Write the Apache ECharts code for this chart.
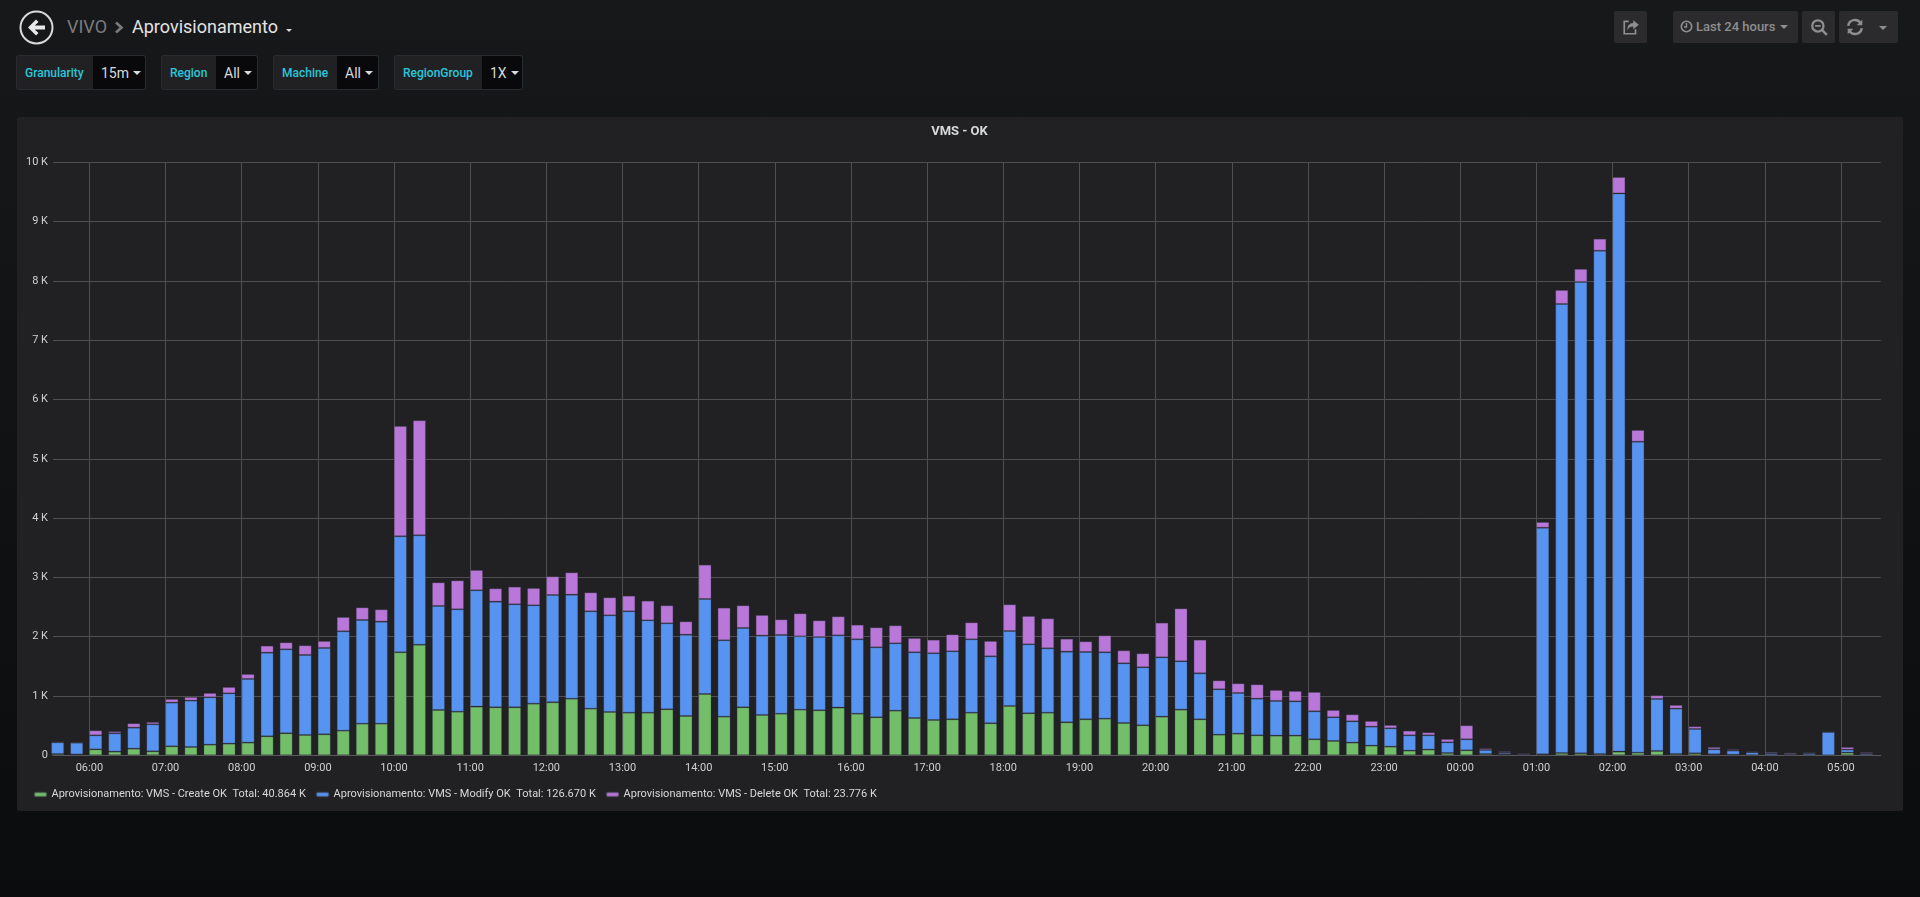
<!DOCTYPE html>
<html>
<head>
<meta charset="utf-8">
<title>VIVO / Aprovisionamento</title>
<script src="https://cdn.jsdelivr.net/npm/echarts@6/dist/echarts.min.js"></script>
<style>
html,body{margin:0;padding:0;width:1920px;height:897px;overflow:hidden;font-family:Roboto,sans-serif;background:linear-gradient(180deg,#17181a 0%,#0b0c0e 100%);}
.abs{position:absolute;white-space:nowrap;}
#panel{position:absolute;left:17px;top:117px;width:1886px;height:694px;background:#212124;border-radius:2px;}
#chart{position:absolute;left:0;top:0;width:1920px;height:897px;}
.crumb{font-size:18px;line-height:24px;top:15px;}
.flabel,.fval{position:absolute;top:55px;height:35px;line-height:35px;box-sizing:border-box;font-size:12px;}
.flabel{background:#212124;color:#2ac6d9;font-weight:500;border:1px solid #2a2b2e;border-right:0;border-radius:3px 0 0 3px;padding-left:8px;}
.fval{background:#09090b;color:#d8d9da;font-size:14px;border:1px solid #2a2b2e;border-left:0;border-radius:0 3px 3px 0;padding-left:8px;}
.caret{display:inline-block;width:0;height:0;border-left:4px solid transparent;border-right:4px solid transparent;border-top:4px solid #d8d9da;vertical-align:middle;margin-left:4px;margin-top:-2px;}
.btn{position:absolute;top:11px;height:32px;background:#2b2b2e;border-radius:2px;color:#8e8e8e;font-size:13px;font-weight:500;line-height:32px;}
.btn svg{position:absolute;}
</style>
</head>
<body>
<div id="panel"></div>

<svg class="abs" style="left:18px;top:9px" width="38" height="38" viewBox="0 0 38 38">
  <circle cx="18.5" cy="18.5" r="16" fill="none" stroke="#d8d9da" stroke-width="2"/>
  <path d="M10 18.5 L18 10.5 L20.5 13 L16.8 16.5 L27 16.5 L27 20.5 L16.8 20.5 L20.5 24 L18 26.5 Z" fill="#e8e8e8"/>
</svg>
<div class="abs crumb" style="left:67px;color:#7b7b7e">VIVO</div>
<svg class="abs" style="left:114px;top:21px" width="11" height="13" viewBox="0 0 11 13"><path d="M2 1.5 L7.5 6.5 L2 11.5" fill="none" stroke="#7b7b7e" stroke-width="2.6"/></svg>
<div class="abs crumb" style="left:132px;color:#e3e3e3">Aprovisionamento</div>
<div class="abs" style="left:286px;top:29px;width:0;height:0;border-left:3px solid transparent;border-right:3px solid transparent;border-top:3px solid #d8d9da"></div>

<div class="flabel abs" style="left:16px;width:77px">Granularity</div><div class="fval abs" style="left:93px;width:53px">15m<span class="caret"></span></div>
<div class="flabel abs" style="left:161px;width:55px">Region</div><div class="fval abs" style="left:216px;width:42px">All<span class="caret"></span></div>
<div class="flabel abs" style="left:273px;width:64px">Machine</div><div class="fval abs" style="left:337px;width:42px">All<span class="caret"></span></div>
<div class="flabel abs" style="left:394px;width:88px">RegionGroup</div><div class="fval abs" style="left:482px;width:41px">1X<span class="caret"></span></div>

<div class="btn" style="left:1614px;width:33px">
  <svg style="left:8px;top:7px" width="18" height="18" viewBox="0 0 16 16"><path d="M10 2 L15 6 L10 10 L10 7.5 C7 7.5 5.5 8.5 4.8 11 C4.6 7 6.5 4.6 10 4.5 Z" fill="#8e8e8e"/><path d="M6 3 H2 V14 H12 V10" fill="none" stroke="#8e8e8e" stroke-width="1.5"/></svg>
</div>
<div class="btn" style="left:1673px;width:125px;padding-left:8px;box-sizing:border-box">
  <svg style="left:7px;top:9px" width="13" height="13" viewBox="0 0 13 13"><circle cx="6.5" cy="6.5" r="5.2" fill="none" stroke="#8e8e8e" stroke-width="1.6"/><path d="M6.5 3 V7 H4" fill="none" stroke="#8e8e8e" stroke-width="1.4"/></svg>
  <span style="margin-left:15px">Last 24 hours</span><span class="caret" style="border-top-color:#8e8e8e;margin-left:5px"></span>
</div>
<div class="btn" style="left:1802px;width:33px">
  <svg style="left:8px;top:7px" width="18" height="18" viewBox="0 0 16 16"><circle cx="7" cy="7" r="5" fill="none" stroke="#8e8e8e" stroke-width="2"/><path d="M11 11 L15 15" stroke="#8e8e8e" stroke-width="2.2"/><path d="M4.5 7 H9.5" stroke="#8e8e8e" stroke-width="1.6"/></svg>
</div>
<div class="btn" style="left:1839px;width:59px">
  <svg style="left:7px;top:7px" width="18" height="18" viewBox="0 0 16 16"><path d="M2 7 A6 6 0 0 1 13 4.5 M14 9 A6 6 0 0 1 3 11.5" fill="none" stroke="#8e8e8e" stroke-width="2.2"/><path d="M14.5 1.5 V6.5 H9.5 Z M1.5 14.5 V9.5 H6.5 Z" fill="#8e8e8e"/></svg>
  <span class="caret" style="position:absolute;left:40px;top:15px;margin:0;border-top-color:#8e8e8e"></span>
</div>

<div id="chart"></div>

<script>
// Bars are 15-minute buckets, the first one opens at 05:30.
const firstBucket = '2019-01-01T05:30:00Z';
const bucketMinutes = 15;

const seriesNames = [
  'Aprovisionamento: VMS - Create OK',
  'Aprovisionamento: VMS - Modify OK',
  'Aprovisionamento: VMS - Delete OK'
];
const seriesTotals = ['40.864 K', '126.670 K', '23.776 K'];

const createOk = [22,15,100,62,112,67,152,140,180,197,
  214,320,371,343,354,416,534,534,1737,1866,
  764,736,821,809,809,871,894,955,787,731,
  719,719,776,663,1034,652,809,680,702,770,
  759,804,702,641,753,629,596,607,719,540,
  832,708,719,556,607,618,545,506,652,770,
  607,348,365,337,332,332,270,242,214,163,
  146,79,96,39,84,22,17,3,17,39,
  34,22,62,45,73,22,34,17,11,3,
  3,3,3,0,45,3];
const modifyOk = [197,198,237,309,354,456,736,782,798,848,
  1073,1411,1416,1349,1456,1675,1748,1720,1955,1843,
  1754,1726,1961,1782,1737,1658,1809,1754,1641,1629,
  1709,1557,1449,1371,1602,1287,1338,1338,1327,1236,
  1236,1219,1254,1180,1135,1108,1124,1146,1237,1129,
  1264,1163,1085,1192,1135,1119,1006,978,1000,815,
  776,765,686,618,584,578,472,399,359,320,
  309,258,241,180,186,68,28,19,3821,7571,
  7949,8486,9413,5243,877,765,410,84,68,48,
  31,19,31,393,51,25];
const deleteOk = [6,3,84,34,74,39,62,61,73,107,
  84,118,118,163,118,241,213,208,1861,1939,
  399,488,343,225,298,292,315,376,320,304,
  264,332,304,225,579,551,382,348,264,388,
  281,321,247,337,304,241,230,287,286,259,
  450,478,506,219,180,286,219,236,585,893,
  567,151,163,242,186,175,326,123,118,96,
  56,79,51,56,236,28,22,6,96,237,
  220,204,276,198,62,62,45,39,22,16,
  22,23,17,0,44,23];

const seriesColors = ['#73bf69', '#5794f2', '#b877d9'];
const yTicks = { min: 0, max: 10000, step: 1000 };

const MIN = 60000, HOUR = 3600000;
const t0 = Date.parse(firstBucket);
// Grafana draws each bar from its bucket start; the bar is 10 minutes wide, so its centre is start + 5 min.
const barCentre = i => t0 + i * bucketMinutes * MIN + 5 * MIN;

const BAR_WIDTH = 13;
const PLOT_WIDTH = 1920 - 53 - 39.2;
// The panel shows 24 hours from 05:31:20. ECharts widens a time axis by one bar width
// when it carries bars, so the range handed to it is narrowed by the same share.
const shownFrom = t0 + 80 * 1000;
const shownSpan = 24 * HOUR;
const widening = shownSpan * (BAR_WIDTH / PLOT_WIDTH) / 2;
const axisMin = shownFrom + widening;
const axisMax = shownFrom + shownSpan - widening;

const makeSeries = (values, idx) => ({
  name: seriesNames[idx],
  type: 'bar',
  stack: 'vms',
  barWidth: BAR_WIDTH,
  animation: false,
  itemStyle: { color: seriesColors[idx], borderColor: 'rgba(70,70,85,0.3)', borderWidth: 1 },
  data: values.map((v, i) => [barCentre(i), v])
});

const chart = echarts.init(document.getElementById('chart'), null, { renderer: 'canvas' });
chart.setOption({
  useUTC: true,
  backgroundColor: 'transparent',
  animation: false,
  color: seriesColors,
  textStyle: { fontFamily: 'Roboto' },
  title: {
    text: 'VMS - OK', left: 959.5, top: 125, textAlign: 'center', padding: 0,
    textStyle: { color: '#d8d9da', fontSize: 13, fontWeight: 'bold', fontFamily: 'Roboto' }
  },
  legend: {
    left: 33.5, top: 789, padding: 0, orient: 'horizontal', itemWidth: 12, itemHeight: 4, itemGap: 9.8,
    icon: 'roundRect',
    textStyle: { color: '#d8d9da', fontSize: 11, fontFamily: 'Roboto' },
    formatter: n => n + '  Total: ' + seriesTotals[seriesNames.indexOf(n)]
  },
  grid: { left: 53, right: 39.2, top: 162.3, bottom: 141.7 },
  xAxis: {
    type: 'time', min: axisMin, max: axisMax,
    minInterval: HOUR, maxInterval: HOUR,
    axisLine: { show: true, lineStyle: { color: '#5a5a5d', width: 1 } },
    axisTick: { show: false },
    axisLabel: {
      color: '#d0d0d2', fontSize: 11, fontFamily: 'Roboto', margin: 7,
      showMinLabel: false, showMaxLabel: false, hideOverlap: false,
      formatter: '{HH}:{mm}'
    },
    splitLine: { show: true, showMinLine: false, showMaxLine: false, lineStyle: { color: '#4f4f52', width: 1 } }
  },
  yAxis: {
    type: 'value', min: yTicks.min, max: yTicks.max, interval: yTicks.step,
    axisLine: { show: false }, axisTick: { show: false },
    axisLabel: {
      color: '#d0d0d2', fontSize: 11, fontFamily: 'Roboto', margin: 5,
      formatter: v => v === 0 ? '0' : (v / 1000) + ' K'
    },
    splitLine: { show: true, lineStyle: { color: '#4f4f52', width: 1 } }
  },
  series: [createOk, modifyOk, deleteOk].map(makeSeries)
});
</script>
</body>
</html>
